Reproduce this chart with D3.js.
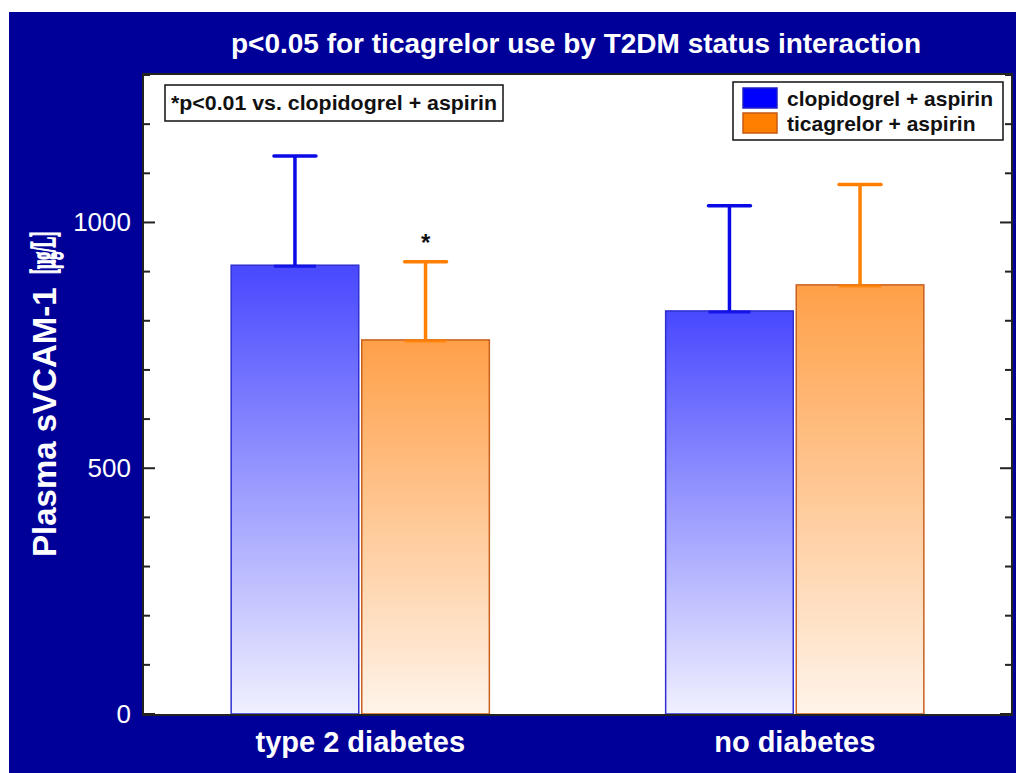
<!DOCTYPE html>
<html>
<head>
<meta charset="utf-8">
<script src="https://cdn.jsdelivr.net/npm/d3@7"></script>
<style>
  html, body { margin: 0; padding: 0; background: #ffffff; }
  svg { display: block; }
</style>
</head>
<body>
<svg id="chart" width="1016" height="773"></svg>
<script>
// ---- data ----
const categories = ["type 2 diabetes", "no diabetes"];
const seriesNames = ["clopidogrel + aspirin", "ticagrelor + aspirin"];
const clopidogrelMeans = [913, 820];
const clopidogrelSD = [222, 214];
const ticagrelorMeans = [761, 873];
const ticagrelorSD = [159, 204];
const significant = [[false, true], [false, false]]; // [category][series]
const yTickValues = [0, 500, 1000];
const titleText = "p<0.05 for ticagrelor use by T2DM status interaction";
const noteText = "*p<0.01 vs. clopidogrel + aspirin";

const means = [clopidogrelMeans, ticagrelorMeans];
const sds = [clopidogrelSD, ticagrelorSD];

// ---- styles ----
const bgColor = "#000099";
const seriesStyle = [
  { top: "#4848ff", bottom: "#f0f0ff", stroke: "#3030d0", err: "#0a0ae6", swatch: "#0000ff", swStroke: "#2020c0" },
  { top: "#ffa048", bottom: "#fff4ea", stroke: "#c8601e", err: "#ff7f00", swatch: "#ff7f00", swStroke: "#c85a10" }
];

const svg = d3.select("#chart");
const W = 1016, H = 773;
const plot = { left: 143, right: 1012, top: 75, bottom: 714 };

// background
svg.append("rect").attr("x", 9).attr("y", 12).attr("width", W - 9).attr("height", H - 12).attr("fill", bgColor);

// plot area
svg.append("rect").attr("x", plot.left).attr("y", plot.top - 1)
  .attr("width", plot.right - plot.left).attr("height", plot.bottom - plot.top + 2)
  .attr("fill", "#ffffff");

const y = d3.scaleLinear().domain([0, 1300]).range([plot.bottom, plot.top]);
const x0 = d3.scaleBand().domain(categories).range([plot.left, plot.right]).paddingInner(0).paddingOuter(0);
const x1 = d3.scaleBand().domain(seriesNames).range([0, x0.bandwidth()]).paddingInner(0.023).paddingOuter(0.675);

// gradients
const defs = svg.append("defs");
seriesStyle.forEach((s, i) => {
  const g = defs.append("linearGradient").attr("id", "grad" + i)
    .attr("x1", 0).attr("y1", 0).attr("x2", 0).attr("y2", 1);
  g.append("stop").attr("offset", "0%").attr("stop-color", s.top);
  g.append("stop").attr("offset", "100%").attr("stop-color", s.bottom);
});

// bars
const barData = [];
categories.forEach((c, ci) => {
  seriesNames.forEach((s, si) => {
    barData.push({ c, s, ci, si, mean: means[si][ci], sd: sds[si][ci], sig: significant[ci][si] });
  });
});

const gBars = svg.append("g");
gBars.selectAll("rect.bar").data(barData).join("rect")
  .attr("class", "bar")
  .attr("x", d => x0(d.c) + x1(d.s))
  .attr("y", d => y(d.mean))
  .attr("width", x1.bandwidth())
  .attr("height", d => y(0) - y(d.mean))
  .attr("fill", d => `url(#grad${d.si})`)
  .attr("stroke", d => seriesStyle[d.si].stroke)
  .attr("stroke-width", 1.5);

// error bars
const capW = 42;
const gErr = svg.append("g");
barData.forEach(d => {
  const cx = x0(d.c) + x1(d.s) + x1.bandwidth() / 2;
  const col = seriesStyle[d.si].err;
  gErr.append("line").attr("x1", cx).attr("x2", cx)
    .attr("y1", y(d.mean)).attr("y2", y(d.mean + d.sd))
    .attr("stroke", col).attr("stroke-width", 3.5);
  gErr.append("line").attr("x1", cx - capW / 2).attr("x2", cx + capW / 2)
    .attr("y1", y(d.mean + d.sd)).attr("y2", y(d.mean + d.sd))
    .attr("stroke", col).attr("stroke-width", 3.5).attr("stroke-linecap", "round");
  gErr.append("line").attr("x1", cx - capW / 2).attr("x2", cx + capW / 2)
    .attr("y1", y(d.mean) + 1).attr("y2", y(d.mean) + 1)
    .attr("stroke", col).attr("stroke-width", 3).attr("opacity", 0.8);
  if (d.sig) {
    gErr.append("text").attr("x", cx).attr("y", y(d.mean + d.sd) - 11)
      .attr("text-anchor", "middle")
      .style("font-family", "'Liberation Sans', Arial, sans-serif")
      .style("font-weight", "bold").style("font-size", "24px")
      .attr("fill", "#111").text("*");
  }
});

// axes ticks (inside)
const minorTicks = d3.range(0, 1301, 100);
const gl = svg.append("g").attr("transform", `translate(${plot.left},0)`);
gl.selectAll("line.t").data(minorTicks).join("line")
  .attr("x1", 0).attr("x2", d => (d % 500 === 0 ? 12 : 7))
  .attr("y1", d => y(d)).attr("y2", d => y(d))
  .attr("stroke", "#222").attr("stroke-width", 2);
const gr = svg.append("g").attr("transform", `translate(${plot.right},0)`);
gr.selectAll("line.t").data(minorTicks).join("line")
  .attr("x1", 0).attr("x2", d => (d % 500 === 0 ? -12 : -7))
  .attr("y1", d => y(d)).attr("y2", d => y(d))
  .attr("stroke", "#222").attr("stroke-width", 2);

// tick labels via d3 axis
const yAxis = d3.axisLeft(y).tickValues(yTickValues).tickSize(0).tickPadding(12).tickFormat(d3.format("d"));
const gy = svg.append("g").attr("transform", `translate(${plot.left},0)`).call(yAxis);
gy.select(".domain").remove();
gy.selectAll("text").attr("fill", "#ffffff")
  .style("font-family", "'Liberation Sans', Arial, sans-serif").style("font-size", "26px");

// category labels via axis
const xAxis = d3.axisBottom(x0).tickSize(0).tickPadding(0);
const gx = svg.append("g").attr("transform", `translate(0,${plot.bottom})`).call(xAxis);
gx.select(".domain").remove();
gx.selectAll("text").attr("fill", "#ffffff").attr("dy", null).attr("y", 38)
  .style("font-family", "'Liberation Sans', Arial, sans-serif")
  .style("font-weight", "bold").style("font-size", "29px");

// plot border
svg.append("rect").attr("x", plot.left).attr("y", plot.top - 1)
  .attr("width", plot.right - plot.left).attr("height", plot.bottom - plot.top + 2)
  .attr("fill", "none").attr("stroke", "#222").attr("stroke-width", 2);

// title
svg.append("text").attr("x", 576).attr("y", 53).attr("text-anchor", "middle")
  .attr("fill", "#ffffff")
  .style("font-family", "'Liberation Sans', Arial, sans-serif")
  .style("font-weight", "bold").style("font-size", "28px")
  .text(titleText);

// y axis title
svg.append("text").attr("transform", "translate(56,557) rotate(-90)")
  .attr("fill", "#ffffff")
  .style("font-family", "'Liberation Sans', Arial, sans-serif")
  .style("font-weight", "bold").style("font-size", "33px")
  .text("Plasma sVCAM-1");
svg.append("text").attr("transform", "translate(55,274) rotate(-90) scale(0.44,1)")
  .attr("fill", "#ffffff").attr("stroke", "#ffffff").attr("stroke-width", 1.6)
  .style("font-family", "'Liberation Serif', 'Times New Roman', serif")
  .style("font-weight", "bold").style("font-size", "36px")
  .text("[μg/L]");

// note box
svg.append("rect").attr("x", 165).attr("y", 85).attr("width", 338).attr("height", 36)
  .attr("fill", "#ffffff").attr("stroke", "#111").attr("stroke-width", 1.5);
svg.append("text").attr("x", 171).attr("y", 110)
  .attr("fill", "#111")
  .attr("textLength", 326).attr("lengthAdjust", "spacingAndGlyphs")
  .style("font-family", "'Liberation Sans', Arial, sans-serif")
  .style("font-weight", "bold").style("font-size", "20px")
  .text(noteText);

// legend
const lg = svg.append("g");
lg.append("rect").attr("x", 733).attr("y", 82).attr("width", 270).attr("height", 58)
  .attr("fill", "#ffffff").attr("stroke", "#111").attr("stroke-width", 1.5);
seriesNames.forEach((s, i) => {
  const yy = 88 + i * 25;
  lg.append("rect").attr("x", 743).attr("y", yy).attr("width", 34).attr("height", 20)
    .attr("fill", seriesStyle[i].swatch).attr("stroke", seriesStyle[i].swStroke).attr("stroke-width", 1.5);
  lg.append("text").attr("x", 787).attr("y", yy + 18)
    .attr("fill", "#111")
    .style("font-family", "'Liberation Sans', Arial, sans-serif")
    .style("font-weight", "bold").style("font-size", "21px")
    .text(s);
});
</script>
</body>
</html>
